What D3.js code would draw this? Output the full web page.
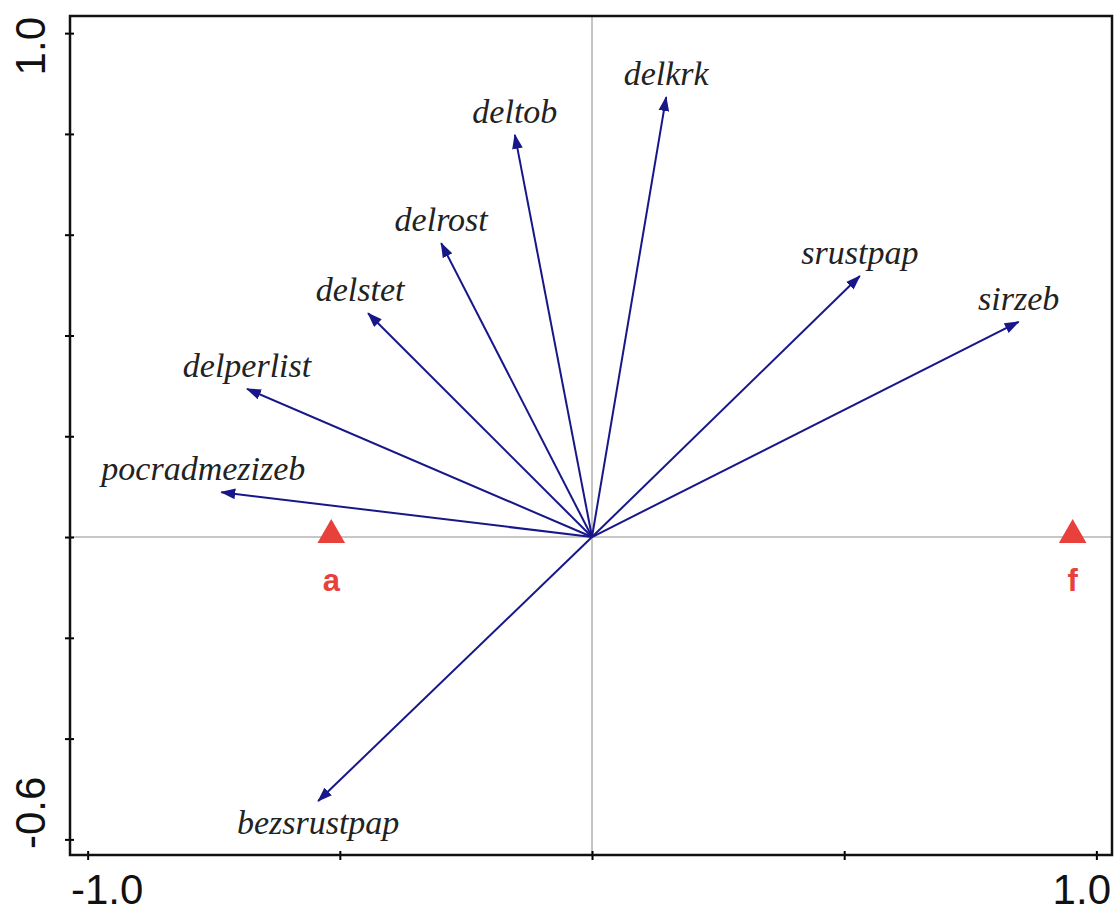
<!DOCTYPE html>
<html>
<head>
<meta charset="utf-8">
<script src="https://cdn.jsdelivr.net/npm/d3@7"></script>
<style>
  html, body { margin: 0; padding: 0; background: #fff; }
  svg { display: block; }
  .var-label { font-family: "Liberation Serif", "DejaVu Serif", serif; font-style: italic; font-size: 34px; fill: #222; }
  .tick-label { font-family: "Liberation Sans", Arial, sans-serif; font-size: 42px; fill: #111; }
  .sample-label { font-family: "Liberation Sans", Arial, sans-serif; font-weight: bold; font-size: 31px; fill: #e8413c; }
</style>
</head>
<body>
<svg id="chart" width="1116" height="912"></svg>
<script>
// environmental variables (arrow tips)
const varNames = ['deltob', 'delkrk', 'delrost', 'delstet', 'delperlist', 'pocradmezizeb', 'srustpap', 'sirzeb', 'bezsrustpap'];
const varX = [-0.153, 0.147, -0.299, -0.444, -0.684, -0.735, 0.531, 0.846, -0.543];
const varY = [0.798, 0.873, 0.583, 0.444, 0.294, 0.089, 0.518, 0.427, -0.524];

// sample points
const sampleNames = ['a', 'f'];
const sampleX = [-0.517, 0.953];
const sampleY = [0.0, 0.0];

// axis ticks
const xTicks = [-1.0, -0.5, 0, 0.5, 1.0];
const yTicks = [1.0, 0.8, 0.6, 0.4, 0.2, 0, -0.2, -0.4, -0.6];
const xTickLabels = ['-1.0', '1.0'];
const yTickLabels = ['1.0', '-0.6'];

const svg = d3.select('#chart');
const plotLeft = 70, plotRight = 1112, plotTop = 16, plotBottom = 855;

const x = d3.scaleLinear().domain([-1.035, 1.031]).range([plotLeft, plotRight]);
const y = d3.scaleLinear().domain([-0.631, 1.034]).range([plotBottom, plotTop]);

// zero lines
svg.append('line')
  .attr('x1', plotLeft).attr('x2', plotRight)
  .attr('y1', y(0)).attr('y2', y(0))
  .attr('stroke', '#b4b4b4').attr('stroke-width', 1.5);
svg.append('line')
  .attr('x1', x(0)).attr('x2', x(0))
  .attr('y1', plotTop).attr('y2', plotBottom)
  .attr('stroke', '#8a8a8a').attr('stroke-width', 1);

// axes with small crossing ticks
const xAxis = d3.axisBottom(x).tickValues(xTicks).tickSize(5).tickFormat('');
const gx = svg.append('g').attr('transform', `translate(0,${plotBottom})`).call(xAxis);
gx.select('.domain').remove();
gx.selectAll('.tick line').attr('y1', -4).attr('y2', 5).attr('stroke', '#000').attr('stroke-width', 2);

const yAxis = d3.axisLeft(y).tickValues(yTicks).tickSize(5).tickFormat('');
const gy = svg.append('g').attr('transform', `translate(${plotLeft},0)`).call(yAxis);
gy.select('.domain').remove();
gy.selectAll('.tick line').attr('x1', -5).attr('x2', 4).attr('stroke', '#000').attr('stroke-width', 2);

// frame
svg.append('rect')
  .attr('x', plotLeft).attr('y', plotTop)
  .attr('width', plotRight - plotLeft).attr('height', plotBottom - plotTop)
  .attr('fill', 'none').attr('stroke', '#111').attr('stroke-width', 2.5);

// tick labels: end labels are pulled inside the frame edges
svg.selectAll('.xlab')
  .data(xTickLabels)
  .join('text')
    .attr('class', 'tick-label')
    .attr('x', (d, i) => i === 0 ? plotLeft + 1 : plotRight - 1)
    .attr('y', 904)
    .attr('text-anchor', (d, i) => i === 0 ? 'start' : 'end')
    .text(d => d);

svg.selectAll('.ylab')
  .data(yTickLabels)
  .join('text')
    .attr('class', 'tick-label')
    .attr('transform', (d, i) => `translate(45,${i === 0 ? plotTop + 1 : plotBottom - 6}) rotate(-90)`)
    .attr('text-anchor', (d, i) => i === 0 ? 'end' : 'start')
    .text(d => d);

// arrowhead
svg.append('defs').append('marker')
  .attr('id', 'head')
  .attr('viewBox', '0 0 14 10')
  .attr('refX', 13).attr('refY', 5)
  .attr('markerWidth', 15).attr('markerHeight', 11)
  .attr('markerUnits', 'userSpaceOnUse')
  .attr('orient', 'auto')
  .append('path')
    .attr('d', 'M0,0 L14,5 L0,10 Z')
    .attr('fill', '#17178a');

const vars = varNames.map((name, i) => ({ name, x: varX[i], y: varY[i] }));

svg.selectAll('.arrow')
  .data(vars)
  .join('line')
    .attr('class', 'arrow')
    .attr('x1', x(0)).attr('y1', y(0))
    .attr('x2', d => x(d.x)).attr('y2', d => y(d.y))
    .attr('stroke', '#17178a').attr('stroke-width', 2)
    .attr('marker-end', 'url(#head)');

const nudge = { pocradmezizeb: -18, delstet: -8 };
svg.selectAll('.var-label')
  .data(vars)
  .join('text')
    .attr('class', 'var-label')
    .attr('x', d => x(d.x) + (nudge[d.name] || 0))
    .attr('y', d => d.y < 0 ? y(d.y) + 33 : y(d.y) - 12)
    .attr('text-anchor', 'middle')
    .text(d => d.name);

// samples
const samples = sampleNames.map((name, i) => ({ name, x: sampleX[i], y: sampleY[i] }));
svg.selectAll('.sample')
  .data(samples)
  .join('path')
    .attr('class', 'sample')
    .attr('d', d3.symbol().type(d3.symbolTriangle).size(330))
    .attr('transform', d => `translate(${x(d.x)},${y(d.y) - 2})`)
    .attr('fill', '#e8413c');

svg.selectAll('.sample-label')
  .data(samples)
  .join('text')
    .attr('class', 'sample-label')
    .attr('x', d => x(d.x))
    .attr('y', d => y(d.y) + 54)
    .attr('text-anchor', 'middle')
    .text(d => d.name);
</script>
</body>
</html>
